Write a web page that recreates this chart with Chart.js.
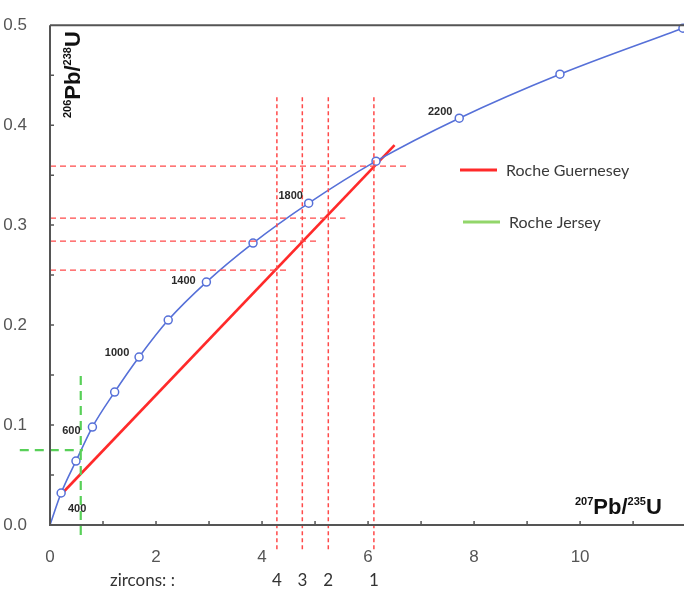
<!DOCTYPE html>
<html>
<head>
<meta charset="utf-8">
<script src="https://cdn.jsdelivr.net/npm/chart.js@4"></script>
<style>
  html, body { margin: 0; padding: 0; background: #fff; }
  #wrap { width: 684px; height: 591px; }
</style>
</head>
<body>
<div id="wrap"><canvas id="concordia"></canvas></div>
<script>
// concordia points (207Pb/235U, 206Pb/238U)
const concX = [0.21, 0.49, 0.80, 1.22, 1.68, 2.23, 2.95, 3.83, 4.88, 6.15, 7.72, 9.62, 11.94];
const concY = [0.032, 0.064, 0.098, 0.133, 0.168, 0.205, 0.243, 0.282, 0.322, 0.364, 0.407, 0.451, 0.497];
const ageLabels = ["400", "600", "1000", "1400", "1800", "2200"];
const ageIndex = [0, 2, 4, 6, 8, 10];

// Roche Guernesey discordia
const redX = [0.2, 6.5];
const redY = [0.03, 0.38];

// zircons
const zirconNames = ["4", "3", "2", "1"];
const zirconX = [4.28, 4.76, 5.25, 6.11];
const zirconY = [0.255, 0.284, 0.307, 0.359];
const zirconYEnd = [4.47, 5.04, 5.57, 6.74];
const vTop = 0.428, vBottom = -0.025;

// Roche Jersey
const jerseyX = 0.58;
const jerseyY = 0.075;

const legendItems = ["Roche Guernesey", "Roche Jersey"];

const RED = "#ff2a2a";
const RED_DASH = "#ff4a4a";
const GREEN_DASH = "#58d058";
const GREEN = "#92d66a";
const BLUE = "#5670d8";

const datasets = [];

// dashed red verticals and horizontals
zirconX.forEach((x, i) => {
  datasets.push({
    data: [{ x: x, y: vTop }, { x: x, y: vBottom }],
    showLine: true, borderColor: RED_DASH, borderWidth: 1.5, borderDash: [4, 3],
    pointRadius: 0, clip: false,
  });
  datasets.push({
    data: [{ x: 0, y: zirconY[i] }, { x: zirconYEnd[i], y: zirconY[i] }],
    showLine: true, borderColor: RED_DASH, borderWidth: 1.4, borderDash: [6, 4],
    pointRadius: 0, clip: false,
  });
});

// green Jersey dashes
datasets.push({
  data: [{ x: jerseyX, y: 0.149 }, { x: jerseyX, y: -0.015 }],
  showLine: true, borderColor: GREEN_DASH, borderWidth: 2.2, borderDash: [9, 6],
  pointRadius: 0, clip: false,
});
datasets.push({
  data: [{ x: -0.57, y: jerseyY }, { x: 0.62, y: jerseyY }],
  showLine: true, borderColor: GREEN_DASH, borderWidth: 2.2, borderDash: [9, 6],
  pointRadius: 0, clip: false,
});

// concordia
datasets.push({
  label: "concordia",
  data: [{ x: 0, y: 0 }].concat(concX.map((x, i) => ({ x: x, y: concY[i] }))),
  showLine: true, borderColor: BLUE, borderWidth: 1.6,
  cubicInterpolationMode: "monotone",
  pointRadius: [0].concat(concX.map(() => 4)),
  pointBackgroundColor: "#fff", pointBorderColor: BLUE, pointBorderWidth: 1.5,
  clip: false,
});

// red discordia
datasets.push({
  data: redX.map((x, i) => ({ x: x, y: redY[i] })),
  showLine: true, borderColor: RED, borderWidth: 2.6, pointRadius: 0,
});

const AXIS = "#555";

function drawSup(ctx, parts, x, y) {
  let cx = x;
  parts.forEach(p => {
    ctx.font = p[1] ? "bold 11px 'Liberation Sans'" : "bold 22px 'Liberation Sans'";
    ctx.fillText(p[0], cx, p[1] ? y - 9 : y);
    cx += ctx.measureText(p[0]).width;
  });
}

const decor = {
  id: "decor",
  afterDraw(chart) {
    const ctx = chart.ctx;
    const xs = chart.scales.x, ys = chart.scales.y;
    const a = chart.chartArea;
    ctx.save();
    // axes and top border
    ctx.strokeStyle = AXIS;
    ctx.lineWidth = 2;
    ctx.setLineDash([]);
    ctx.beginPath();
    ctx.moveTo(a.left, a.top); ctx.lineTo(a.right, a.top);
    ctx.moveTo(a.left, a.top); ctx.lineTo(a.left, a.bottom);
    ctx.lineTo(a.right, a.bottom);
    ctx.stroke();
    // inward ticks
    ctx.lineWidth = 1.5;
    ctx.beginPath();
    xs.ticks.forEach(t => {
      const px = xs.getPixelForValue(t.value);
      if (t.value === 0) return;
      ctx.moveTo(px, a.bottom); ctx.lineTo(px, a.bottom - 4);
    });
    ys.ticks.forEach(t => {
      const py = ys.getPixelForValue(t.value);
      if (Math.abs(t.value) < 1e-9 || Math.abs(t.value - 0.5) < 1e-9) return;
      ctx.moveTo(a.left, py); ctx.lineTo(a.left + 4, py);
    });
    ctx.stroke();

    // age labels
    const offs = [[16, 16], [-21, 4], [-22, -4], [-23, -1], [-18, -7], [-19, -6]];
    ctx.fillStyle = "#2a2a2a";
    ctx.font = "bold 11px 'Liberation Sans'";
    ctx.textAlign = "center";
    ctx.textBaseline = "middle";
    ageLabels.forEach((lab, i) => {
      const k = ageIndex[i];
      const px = xs.getPixelForValue(concX[k]) + offs[i][0];
      const py = ys.getPixelForValue(concY[k]) + offs[i][1];
      ctx.fillText(lab, px, py);
    });

    // legend
    const legColors = [RED, GREEN];
    const legPos = [[460, 170], [463, 222]];
    ctx.textAlign = "left";
    ctx.font = "16px Lato";
    legendItems.forEach((lab, i) => {
      ctx.strokeStyle = legColors[i];
      ctx.lineWidth = 3;
      ctx.beginPath();
      ctx.moveTo(legPos[i][0], legPos[i][1]);
      ctx.lineTo(legPos[i][0] + 37, legPos[i][1]);
      ctx.stroke();
      ctx.fillStyle = "#3a3a3a";
      ctx.fillText(lab, legPos[i][0] + 46, legPos[i][1] + 1);
    });

    // zircons row
    ctx.fillStyle = "#333";
    ctx.font = "17px Lato";
    ctx.fillText("zircons: :", 110, 581);
    ctx.textAlign = "center";
    zirconNames.forEach((n, i) => {
      ctx.fillText(n, xs.getPixelForValue(zirconX[i]), 581);
    });

    // axis titles
    ctx.fillStyle = "#111";
    ctx.textAlign = "left";
    ctx.textBaseline = "alphabetic";
    drawSup(ctx, [["207", 1], ["Pb/", 0], ["235", 1], ["U", 0]], 575, 514);
    ctx.translate(80, 118);
    ctx.rotate(-Math.PI / 2);
    drawSup(ctx, [["206", 1], ["Pb/", 0], ["238", 1], ["U", 0]], 0, 0);
    ctx.restore();
  },
};

new Chart(document.getElementById("concordia").getContext("2d"), {
  type: "scatter",
  data: { datasets: datasets },
  options: {
    responsive: true,
    maintainAspectRatio: false,
    animation: false,
    layout: { autoPadding: false, padding: { top: 20, right: 0, left: 0, bottom: 0 } },
    plugins: { legend: { display: false }, tooltip: { enabled: false } },
    scales: {
      x: {
        type: "linear",
        min: 0,
        max: 11.96,
        grid: { display: false },
        border: { display: false },
        ticks: {
          stepSize: 1,
          includeBounds: false,
          autoSkip: false,
          maxRotation: 0,
          padding: 14,
          color: "#555",
          font: { family: "'Liberation Sans'", size: 17 },
          callback: v => (v % 2 === 0 ? String(v) : ""),
        },
        afterFit: s => { s.height = 66; },
      },
      y: {
        min: 0,
        max: 0.5,
        grid: { display: false },
        border: { display: false },
        ticks: {
          stepSize: 0.05,
          autoSkip: false,
          padding: 15,
          color: "#555",
          font: { family: "'Liberation Sans'", size: 17 },
          callback: v => (Math.abs(Math.round(v * 10) - v * 10) < 1e-6 ? v.toFixed(1) : ""),
        },
        afterFit: s => { s.width = 50; },
      },
    },
  },
  plugins: [decor],
});
</script>
</body>
</html>
